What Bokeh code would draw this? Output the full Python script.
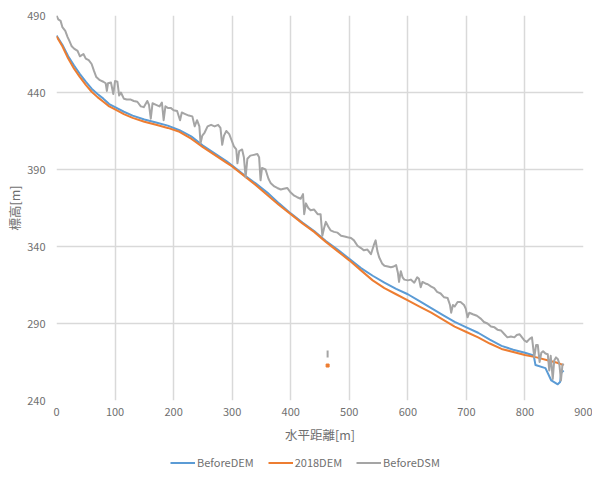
from bokeh.plotting import figure
from bokeh.layouts import column
from bokeh.models import Range1d, FixedTicker, Legend, LegendItem
from bokeh.embed import file_html
from bokeh.resources import INLINE

# ---- data (horizontal distance [m], elevation [m]) ----
before_dem_x = [0, 10, 20, 30, 40, 50, 60, 70, 80, 90, 100, 115, 130, 150, 170, 190, 210, 230, 250,
                270, 290, 300, 320, 340, 360, 380, 400, 420, 440, 460, 480, 500, 520, 540, 560, 580,
                600, 620, 640, 660, 680, 700, 720, 740, 760, 780, 800, 815, 818, 835, 845, 856, 860, 862, 866]
before_dem_y = [477, 471, 463.5, 457.5, 452, 447, 442.5, 439, 436, 432.5, 430.5, 427.5, 425, 422.5,
                420.5, 418.5, 415.5, 411.5, 405.5, 400.5, 395.5, 392.5, 386.5, 381, 375, 368, 361.5,
                355.5, 350, 343.5, 338, 332, 326, 321, 316.5, 312.5, 309, 304.5, 300, 295.5, 291,
                287.5, 284, 279.5, 275.5, 273, 271, 269.2, 263, 261, 253, 250.5, 252, 258, 259.5]

dem2018_x = [0, 10, 20, 30, 40, 50, 60, 70, 80, 90, 100, 115, 130, 150, 170, 190, 210, 230, 250, 270,
             290, 300, 320, 340, 360, 380, 400, 420, 440, 460, 480, 500, 520, 540, 560, 580, 600, 620,
             640, 660, 680, 700, 720, 740, 760, 780, 800, 820, 840, 855, 866]
dem2018_y = [476.5, 470, 462, 455.5, 450, 445, 440.5, 437, 434, 431, 429, 426, 423.5, 421, 419, 417,
             414.5, 410, 404.5, 399.5, 394.5, 392, 386, 380, 373.5, 367, 361, 355, 349.5, 343, 337,
             331, 324.5, 318, 313, 309, 305, 301, 297, 292.5, 288, 284.5, 281, 277, 273.5, 271.5,
             269.5, 268, 266, 264.5, 263]

before_dsm_x = [0, 3, 7, 10, 15, 19, 22, 26, 30, 36, 40, 46, 50, 55, 60, 64, 68, 74, 80, 84, 86, 88,
                93, 97, 100, 104, 107, 110, 115, 120, 126, 132, 138, 144, 149, 155, 158, 161, 164,
                170, 176, 180, 183, 186, 190, 195, 200, 206, 211, 214, 220, 226, 232, 236, 240, 244,
                246, 249, 253, 258, 264, 270, 276, 280, 283, 286, 290, 295, 299, 303, 307, 309, 312,
                317, 320, 323, 326, 331, 337, 343, 346, 348.5, 351, 357, 362, 366, 372, 377, 383,
                388, 394, 400, 406, 411, 417, 421, 423, 426, 430, 434, 440, 446, 451, 454, 457, 460,
                464, 468, 474, 480, 486, 492, 497, 503, 508, 514, 520, 525, 531, 537, 542, 545, 548,
                551, 556, 560, 566, 571, 576, 580, 583, 585, 588, 591, 594, 600, 605, 611, 616, 619,
                622, 625, 630, 634, 640, 645, 650, 656, 662, 668, 672, 674, 677, 680, 685, 690, 696,
                699, 702, 705, 711, 718, 725, 730, 736, 742, 748, 753, 759, 765, 770, 776, 782, 786,
                791, 795, 799, 803, 808, 812, 816, 819, 822, 825, 828, 831, 835, 839, 841.5, 844,
                847.5, 850, 853, 856, 858.7, 861.5, 864, 866]
before_dsm_y = [490, 487.5, 486.5, 482.5, 480, 476, 473.5, 470, 468.5, 467, 463.5, 465, 462, 461,
                458.5, 454, 450, 448, 447, 446, 441, 446, 446.5, 439, 447.5, 447, 438, 440, 436,
                435.5, 435.5, 434.5, 434, 431, 430.5, 434.5, 432, 423, 433, 432, 431, 433.5, 422,
                431, 430, 430, 428.5, 428, 422, 427, 426, 425, 424.5, 418, 422, 418, 407, 412, 414,
                418, 419, 418, 419, 417, 406, 412, 415, 413, 409, 405, 403, 394, 402, 403, 398, 385,
                397, 399, 399.5, 400, 398, 383, 391, 390, 384, 381, 379, 378, 377, 377.5, 378, 375,
                373, 372, 371, 374, 361, 368, 365, 363.5, 364, 361, 361, 347, 352, 356, 353, 350.5,
                349.5, 349, 347, 346.5, 346, 345.5, 344, 340.5, 339, 337.5, 338, 335, 341, 344, 337,
                333, 329, 327.5, 327, 326.5, 327, 328, 323, 317, 324, 320, 318.5, 318, 318.5, 316.5,
                320, 319, 313.5, 317, 316, 315.5, 314, 313, 310.5, 309.5, 307, 306.5, 302, 297, 302,
                301, 304, 304, 302, 299.5, 294, 297, 296, 295, 293, 291, 290, 288, 287.5, 286,
                285.5, 283, 281, 281.5, 281, 282.5, 283, 281, 279, 278, 280, 281, 268, 276, 276,
                265, 271, 272, 270.5, 270, 259.5, 269, 254, 266, 268, 267, 264, 253, 263, 264]

# isolated short segments near 463 m
stray_dsm_x = [463, 463]
stray_dsm_y = [272.5, 268.0]
stray_dem2018_x = [463]
stray_dem2018_y = [262.7]

series_names = ["BeforeDEM", "2018DEM", "BeforeDSM"]
x_ticks = [0, 100, 200, 300, 400, 500, 600, 700, 800, 900]
y_ticks = [240, 290, 340, 390, 440, 490]

BLUE = "#5b9bd5"
ORANGE = "#ed7d31"
GRAY = "#a5a5a5"
TXT = "#6f6f6f"
FONT = "Noto Sans CJK JP"

p = figure(width=592, height=449, output_backend="svg", toolbar_location=None,
           x_range=Range1d(0, 900), y_range=Range1d(240, 490),
           min_border_left=56, min_border_right=9, min_border_top=15, min_border_bottom=49)
p.outline_line_color = None
p.background_fill_color = "white"
p.border_fill_color = "white"

for ax in (p.xaxis[0], p.yaxis[0]):
    ax.axis_line_color = None
    ax.major_tick_line_color = None
    ax.minor_tick_line_color = None
    ax.major_tick_out = 0
    ax.major_tick_in = 0
    ax.minor_tick_out = 0
    ax.minor_tick_in = 0
    ax.major_label_text_color = TXT
    ax.major_label_text_font = FONT
    ax.major_label_text_font_size = "11px"
    ax.axis_label_text_color = TXT
    ax.axis_label_text_font = FONT
    ax.axis_label_text_font_size = "12.5px"
    ax.axis_label_text_font_style = "normal"

p.xaxis[0].ticker = FixedTicker(ticks=x_ticks)
p.yaxis[0].ticker = FixedTicker(ticks=y_ticks)
p.xaxis[0].axis_label = "水平距離[m]"
p.yaxis[0].axis_label = "標高[m]"
p.xaxis[0].major_label_standoff = 7
p.yaxis[0].major_label_standoff = 11
p.xaxis[0].axis_label_standoff = 6
p.yaxis[0].axis_label_standoff = 0

p.xgrid[0].ticker = FixedTicker(ticks=x_ticks)
p.ygrid[0].ticker = FixedTicker(ticks=y_ticks)
for g in (p.xgrid[0], p.ygrid[0]):
    g.grid_line_color = "#d9d9d9"
    g.grid_line_width = 1.5

p.line(before_dem_x, before_dem_y, line_color=BLUE, line_width=2, line_join="round")
p.line(dem2018_x, dem2018_y, line_color=ORANGE, line_width=2, line_join="round")
p.line(before_dsm_x, before_dsm_y, line_color=GRAY, line_width=2, line_join="round")
p.line(stray_dsm_x, stray_dsm_y, line_color=GRAY, line_width=2)
p.scatter(stray_dem2018_x, stray_dem2018_y, marker="square", size=3, color=ORANGE)

# legend strip below the chart (the series are drawn here out of view; only the legend shows)
lg = figure(width=592, height=30, output_backend="svg", toolbar_location=None,
            x_range=Range1d(0, 1), y_range=Range1d(0, 1),
            x_axis_location=None, y_axis_location=None,
            min_border_left=0, min_border_right=0, min_border_top=0, min_border_bottom=0)
lg.grid.visible = False
lg.outline_line_color = None
lrs = [lg.line(xs, ys, line_color=c, line_width=2)
       for xs, ys, c in ((before_dem_x, before_dem_y, BLUE),
                         (dem2018_x, dem2018_y, ORANGE),
                         (before_dsm_x, before_dsm_y, GRAY))]
legend = Legend(items=[LegendItem(label=n, renderers=[r]) for n, r in zip(series_names, lrs)],
                orientation="horizontal", location=(114, 9),
                glyph_width=25, glyph_height=15, label_height=15, label_standoff=2,
                spacing=14, padding=0, margin=0,
                label_text_font=FONT, label_text_font_size="11px", label_text_color=TXT,
                border_line_color=None, background_fill_alpha=0)
lg.add_layout(legend, "center")

open("out.html", "w").write(file_html(column(p, lg, spacing=0), INLINE))
